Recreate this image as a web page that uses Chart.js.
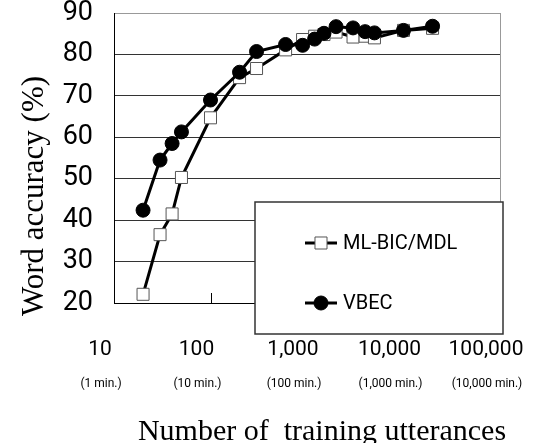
<!DOCTYPE html>
<html>
<head>
<meta charset="utf-8">
<script src="https://cdn.jsdelivr.net/npm/chart.js@4.4.1/dist/chart.umd.min.js"></script>
<style>
  html, body { margin: 0; padding: 0; background: #fff; }
  #wrap { width: 555px; height: 443px; }
</style>
</head>
<body>
<div id="wrap"><canvas id="accChart" width="555" height="443"></canvas></div>
<script>
// ===== Data =====
const ML_X = [20, 30, 40, 50, 100, 200, 300, 600, 900, 1200, 1500, 2000, 3000, 4000, 5000, 10000, 20000];
const ML_Y = [22.1, 36.5, 41.5, 50.3, 64.7, 74.4, 76.6, 81.1, 83.6, 84.4, 84.8, 85.4, 84.2, 84.4, 84.0, 85.8, 86.3];
const VB_X = [20, 30, 40, 50, 100, 200, 300, 600, 900, 1200, 1500, 2000, 3000, 4000, 5000, 10000, 20000];
const VB_Y = [42.4, 54.5, 58.5, 61.3, 69.0, 75.7, 80.7, 82.4, 82.2, 83.7, 85.1, 86.7, 86.4, 85.5, 85.2, 85.8, 86.8];

const X_TICKS = [10, 100, 1000, 10000, 100000];
const X_TICK_LABELS = ['10', '100', '1,000', '10,000', '100,000'];
const X_MIN_LABELS = ['(1 min.)', '(10 min.)', '(100 min.)', '(1,000 min.)', '(10,000 min.)'];
const Y_MIN = 20, Y_MAX = 90, Y_STEP = 10;

const SERIES_NAMES = ['ML-BIC/MDL', 'VBEC'];
const X_TITLE = 'Number of  training utterances';
const Y_TITLE = 'Word accuracy (%)';

// ===== Helpers =====
const toPoints = (xs, ys) => xs.map((x, i) => ({ x, y: ys[i] }));
const SANS = 'Roboto';
const SERIF = 'Liberation Serif';

function decadeTicks(scale) {
  scale.ticks = X_TICKS.map(v => ({ value: v }));
}

// inner tick marks, right frame, legend box, axis titles
const paperPlugin = {
  id: 'paper',
  beforeDatasetsDraw(chart) {
    const { ctx, chartArea: a, scales: { x } } = chart;
    ctx.save();
    ctx.strokeStyle = '#000';
    ctx.lineWidth = 1;
    X_TICKS.forEach(v => {
      const px = Math.round(x.getPixelForValue(v)) + 0.5;
      ctx.beginPath();
      ctx.moveTo(px, a.bottom);
      ctx.lineTo(px, a.bottom - 10);
      ctx.stroke();
    });
    ctx.strokeStyle = '#999';
    ctx.beginPath();
    ctx.moveTo(a.right + 0.5, a.top);
    ctx.lineTo(a.right + 0.5, a.bottom);
    ctx.stroke();
    ctx.restore();
  },
  afterDraw(chart) {
    const { ctx } = chart;
    ctx.save();

    // legend box
    const box = { left: 255, top: 202, right: 503, bottom: 334 };
    ctx.fillStyle = '#fff';
    ctx.fillRect(box.left, box.top, box.right - box.left, box.bottom - box.top);
    ctx.strokeStyle = '#333';
    ctx.lineWidth = 1.5;
    ctx.strokeRect(box.left, box.top, box.right - box.left, box.bottom - box.top);

    const rows = [243, 303];
    // ML-BIC/MDL is dataset 1, VBEC dataset 0
    [1, 0].forEach((di, row) => {
      const ds = chart.data.datasets[di];
      const y = rows[row];
      ctx.strokeStyle = ds.borderColor;
      ctx.lineWidth = ds.borderWidth;
      ctx.beginPath();
      ctx.moveTo(305, y);
      ctx.lineTo(337, y);
      ctx.stroke();
      ctx.fillStyle = ds.pointBackgroundColor;
      ctx.strokeStyle = ds.pointBorderColor;
      ctx.lineWidth = ds.pointBorderWidth;
      Chart.helpers.drawPoint(ctx, {
        pointStyle: ds.pointStyle, rotation: 0,
        radius: ds.pointRadius, borderWidth: ds.pointBorderWidth
      }, 321, y);
      ctx.fillStyle = '#000';
      ctx.font = `20px ${SANS}`;
      ctx.textAlign = 'left';
      ctx.textBaseline = 'middle';
      ctx.fillText(ds.label, 343, y + 1);
    });

    // axis titles
    ctx.fillStyle = '#000';
    ctx.font = `30px "${SERIF}"`;
    ctx.textAlign = 'center';
    ctx.textBaseline = 'middle';
    ctx.fillText(X_TITLE, 322, 432);

    ctx.translate(35, 196);
    ctx.rotate(-Math.PI / 2);
    ctx.font = `31px "${SERIF}"`;
    ctx.fillText(Y_TITLE, 0, 0);
    ctx.restore();
  }
};

// ===== Chart =====
const chart = new Chart(document.getElementById('accChart'), {
  type: 'line',
  data: {
    datasets: [
      {
        label: SERIES_NAMES[1],
        data: toPoints(VB_X, VB_Y),
        borderColor: '#000',
        borderWidth: 3,
        pointStyle: 'circle',
        pointRadius: 7,
        pointBackgroundColor: '#000',
        pointBorderColor: '#000',
        pointBorderWidth: 1,
        tension: 0,
        order: 0
      },
      {
        label: SERIES_NAMES[0],
        data: toPoints(ML_X, ML_Y),
        borderColor: '#000',
        borderWidth: 3,
        pointStyle: 'rect',
        pointRadius: 8.5,
        pointBackgroundColor: '#fff',
        pointBorderColor: '#555',
        pointBorderWidth: 1,
        tension: 0,
        order: 1
      }
    ]
  },
  options: {
    responsive: false,
    animation: false,
    devicePixelRatio: 1,
    layout: { padding: 0 },
    plugins: {
      legend: { display: false },
      tooltip: { enabled: false }
    },
    scales: {
      x: {
        type: 'logarithmic',
        position: 'bottom',
        min: 10,
        max: 100000,
        afterBuildTicks: decadeTicks,
        afterFit(scale) { scale.height = 62; scale.paddingRight = 55; },
        grid: { drawOnChartArea: false, drawTicks: false },
        border: { color: '#000', width: 1 },
        ticks: {
          color: '#000',
          padding: 34,
          labelOffset: -14,
          maxRotation: 0,
          autoSkip: false,
          font: { family: SANS, size: 21 },
          callback: (v) => X_TICK_LABELS[X_TICKS.indexOf(v)] ?? ''
        }
      },
      x2: {
        type: 'logarithmic',
        position: 'bottom',
        axis: 'x',
        min: 10,
        max: 100000,
        afterBuildTicks: decadeTicks,
        afterFit(scale) { scale.height = 78; },
        grid: { display: false, drawTicks: false },
        border: { display: false },
        ticks: {
          color: '#000',
          padding: 12,
          labelOffset: -13,
          maxRotation: 0,
          autoSkip: false,
          font: { family: SANS, size: 12 },
          callback: (v) => X_MIN_LABELS[X_TICKS.indexOf(v)] ?? ''
        }
      },
      y: {
        min: Y_MIN,
        max: Y_MAX,
        afterFit(scale) { scale.width = 114; scale.paddingTop = 13; },
        grid: {
          drawTicks: false,
          color: (c) => c.tick.value === Y_MAX ? '#999' : '#333'
        },
        border: { color: '#000', width: 1 },
        ticks: {
          stepSize: Y_STEP,
          color: '#000',
          padding: 21,
          font: { family: SANS, size: 27, lineHeight: 1 }
        }
      }
    }
  },
  plugins: [paperPlugin]
});
</script>
</body>
</html>
